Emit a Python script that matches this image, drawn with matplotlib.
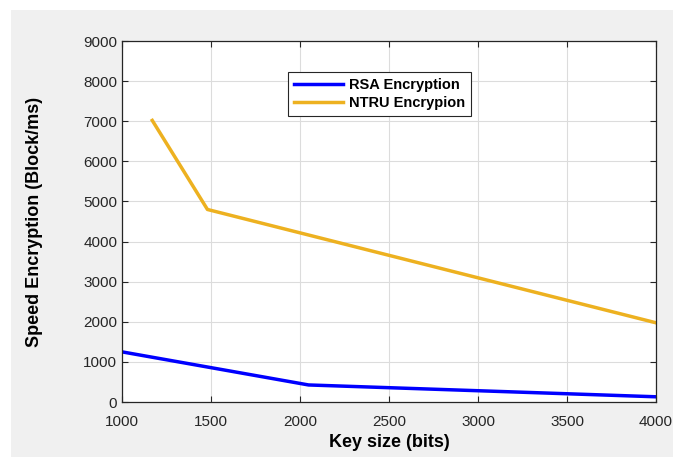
import matplotlib
matplotlib.use('Agg')
import matplotlib.pyplot as plt
from matplotlib.patches import Rectangle

# Data
rsa_keys = [1000, 2048, 4000]
rsa_speed = [1250, 425, 130]
ntru_keys = [1170, 1480, 4000]
ntru_speed = [7020, 4800, 1975]
x_ticks = [1000, 1500, 2000, 2500, 3000, 3500, 4000]
y_ticks = [0, 1000, 2000, 3000, 4000, 5000, 6000, 7000, 8000, 9000]

plt.rcParams['font.family'] = ['Liberation Sans', 'DejaVu Sans']

fig = plt.figure(figsize=(6.73, 4.57), dpi=100, facecolor='white')
# MATLAB style gray panel behind the axes
fig.patches.append(Rectangle((11 / 673, 0), 1, 1 - 10 / 457, transform=fig.transFigure,
                             facecolor='#f0f0f0', edgecolor='none', zorder=-5))

W, H = 673, 457
ax = fig.add_axes([122 / W, 1 - 402 / H, (656 - 122) / W, (402 - 41) / H])
ax.set_facecolor('white')

ax.plot(rsa_keys, rsa_speed, color=(0, 0, 1), linewidth=2.5, label='RSA Encryption')
ax.plot(ntru_keys, ntru_speed, color='#EDB120', linewidth=2.5, label='NTRU Encrypion')

ax.set_xlim(1000, 4000)
ax.set_ylim(0, 9000)
ax.set_xticks(x_ticks)
ax.set_yticks(y_ticks)
ax.tick_params(labelsize=11, direction='in', length=4, width=0.8, top=True, right=True,
               colors='#262626')
ax.tick_params(axis='x', pad=9)
ax.grid(True, color='#dcdcdc', linewidth=0.8)
ax.set_axisbelow(True)
for s in ax.spines.values():
    s.set_color('#262626')
    s.set_linewidth(0.9)

ax.set_xlabel('Key size (bits)', fontsize=13, fontweight='bold', labelpad=4)
ax.set_ylabel('Speed Encryption (Block/ms)', fontsize=13, fontweight='bold', labelpad=29)

leg = ax.legend(loc='upper left', bbox_to_anchor=(0.297, 0.933),
                prop={'weight': 'bold', 'size': 10.5}, fancybox=False, framealpha=1,
                edgecolor='#262626', handlelength=3.4, borderpad=0.4,
                labelspacing=0.25, handletextpad=0.4)
leg.get_frame().set_linewidth(0.8)

fig.savefig('out.png', dpi=100, facecolor=fig.get_facecolor())
